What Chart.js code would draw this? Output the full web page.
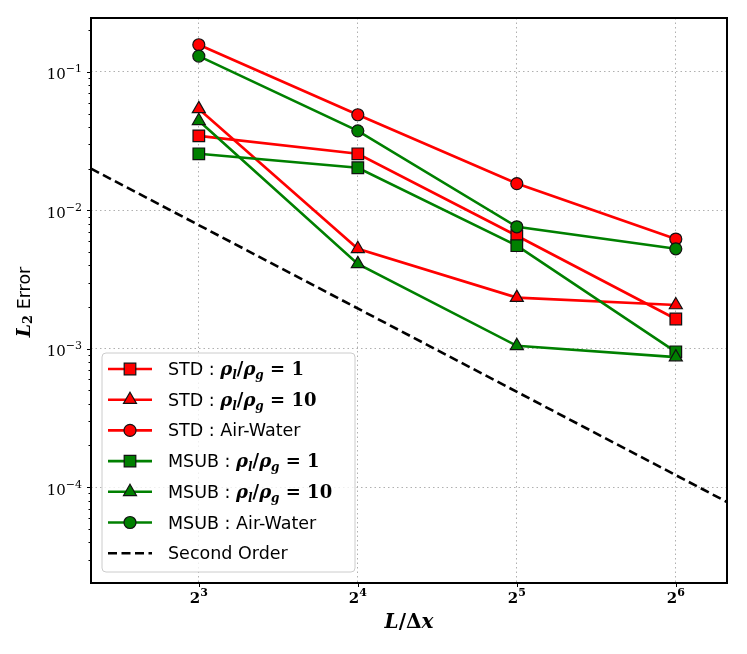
<!DOCTYPE html>
<html>
<head>
<meta charset="utf-8">
<script src="https://cdn.jsdelivr.net/npm/chart.js@4.4.1/dist/chart.umd.min.js"></script>
<style>
  html, body { margin: 0; padding: 0; background: #fff; }
</style>
</head>
<body>
<canvas id="errChart" width="747" height="654"></canvas>
<script>
// grid resolution L/dx and tick labels (base, exponent)
const gridN = [8, 16, 32, 64];
const xTickBase = ['2', '2', '2', '2'];
const xTickExp = ['3', '4', '5', '6'];
const yTicks = [1e-4, 1e-3, 1e-2, 1e-1];
const yTickBase = ['10', '10', '10', '10'];
const yTickExp = ['−4', '−3', '−2', '−1'];

// L2 error
const stdRatio1 = [0.0345, 0.0256, 0.00655, 0.00164];
const stdRatio10 = [0.054, 0.00527, 0.00234, 0.00207];
const stdAirWater = [0.157, 0.049, 0.0156, 0.0062];
const msubRatio1 = [0.0256, 0.0203, 0.00555, 0.00095];
const msubRatio10 = [0.0443, 0.0041, 0.00105, 0.00087];
const msubAirWater = [0.13, 0.0375, 0.0076, 0.00527];

// reference slope line
const orderX = [5, 80];
const orderY = [0.0200, 0.0000781];

const seriesNames = [
    'STD : ρl/ρg = 1', 'STD : ρl/ρg = 10', 'STD : Air-Water',
    'MSUB : ρl/ρg = 1', 'MSUB : ρl/ρg = 10', 'MSUB : Air-Water',
    'Second Order'
];

const RED = '#ff0000';
const GREEN = '#008000';
const markerSize = { rect: 8.2, triangle: 7.5, circle: 6 };
const LINE_W = 2.6;
const DASH = [9, 4.5];

function series(label, vals, color, style, idx) {
    return {
        label: label,
        data: vals.map((v, i) => ({ x: gridN[i], y: v })),
        borderColor: color,
        backgroundColor: color,
        borderWidth: LINE_W,
        pointStyle: style,
        pointRadius: markerSize[style],
        pointBackgroundColor: color,
        pointBorderColor: '#111',
        pointBorderWidth: 1.2,
        tension: 0,
        order: 10 - idx
    };
}

const datasets = [
    series(seriesNames[0], stdRatio1, RED, 'rect', 0),
    series(seriesNames[1], stdRatio10, RED, 'triangle', 1),
    series(seriesNames[2], stdAirWater, RED, 'circle', 2),
    series(seriesNames[3], msubRatio1, GREEN, 'rect', 3),
    series(seriesNames[4], msubRatio10, GREEN, 'triangle', 4),
    series(seriesNames[5], msubAirWater, GREEN, 'circle', 5),
    {
        label: seriesNames[6],
        data: orderX.map((x, i) => ({ x: x, y: orderY[i] })),
        borderColor: '#000',
        borderWidth: LINE_W,
        borderDash: DASH,
        pointRadius: 0,
        order: 1
    }
];

// --- helpers for drawing mixed-font text ---
const SANS = 'DejaVu Sans';
const SERIF = 'DejaVu Serif';

function drawSegs(ctx, segs, x, y, align) {
    let total = 0;
    segs.forEach(s => { ctx.font = s.font; total += ctx.measureText(s.t).width; });
    let cx = align === 'center' ? x - total / 2 : (align === 'right' ? x - total : x);
    segs.forEach(s => {
        ctx.font = s.font;
        ctx.fillText(s.t, cx, y + (s.dy || 0));
        cx += ctx.measureText(s.t).width;
    });
}

function labelSegs(label) {
    const key = 'ρl/ρg';
    if (label.indexOf(key) < 0) return [{ t: label, font: '17.5px ' + SANS }];
    const parts = label.split(key);
    const it = 'bold italic 18px ' + SERIF, sub = 'bold italic 12px ' + SERIF, bd = 'bold 18px ' + SERIF;
    return [
        { t: parts[0], font: '17.5px ' + SANS },
        { t: 'ρ', font: it }, { t: 'l', font: sub, dy: 4 },
        { t: '/', font: bd },
        { t: 'ρ', font: it }, { t: 'g', font: sub, dy: 4 },
        { t: parts[1], font: bd }
    ];
}

function drawMarker(ctx, style, x, y, color) {
    const r = markerSize[style];
    ctx.save();
    ctx.fillStyle = color;
    ctx.strokeStyle = '#111';
    ctx.lineWidth = 1.2;
    ctx.beginPath();
    if (style === 'circle') {
        ctx.arc(x, y, r, 0, Math.PI * 2);
    } else if (style === 'rect') {
        const s = r * Math.SQRT1_2;
        ctx.rect(x - s, y - s, 2 * s, 2 * s);
    } else {
        ctx.moveTo(x, y - r);
        ctx.lineTo(x + Math.sin(2 * Math.PI / 3) * r, y + r / 2);
        ctx.lineTo(x - Math.sin(2 * Math.PI / 3) * r, y + r / 2);
        ctx.closePath();
    }
    ctx.fill();
    ctx.stroke();
    ctx.restore();
}

const legendStyles = [
    { color: RED, style: 'rect' }, { color: RED, style: 'triangle' }, { color: RED, style: 'circle' },
    { color: GREEN, style: 'rect' }, { color: GREEN, style: 'triangle' }, { color: GREEN, style: 'circle' },
    { color: '#000', style: null }
];

const decorPlugin = {
    id: 'decor',
    afterDatasetsDraw(chart) {
        const ctx = chart.ctx;
        // legend box
        const bx = 102, by = 353, bw = 253, bh = 219, rad = 4;
        ctx.save();
        ctx.beginPath();
        ctx.moveTo(bx + rad, by);
        ctx.arcTo(bx + bw, by, bx + bw, by + bh, rad);
        ctx.arcTo(bx + bw, by + bh, bx, by + bh, rad);
        ctx.arcTo(bx, by + bh, bx, by, rad);
        ctx.arcTo(bx, by, bx + bw, by, rad);
        ctx.closePath();
        ctx.fillStyle = 'rgba(255,255,255,0.8)';
        ctx.fill();
        ctx.strokeStyle = '#cccccc';
        ctx.lineWidth = 1;
        ctx.stroke();

        ctx.textBaseline = 'alphabetic';
        seriesNames.forEach((name, i) => {
            const y = 369 + i * 30.7;
            const st = legendStyles[i];
            ctx.save();
            ctx.strokeStyle = st.color;
            ctx.lineWidth = LINE_W;
            if (!st.style) ctx.setLineDash(DASH);
            ctx.beginPath();
            ctx.moveTo(108, y);
            ctx.lineTo(152, y);
            ctx.stroke();
            ctx.restore();
            if (st.style) drawMarker(ctx, st.style, 130, y, st.color);
            ctx.fillStyle = '#000';
            drawSegs(ctx, labelSegs(name), 168, y + 6, 'left');
        });
        ctx.restore();
    },
    afterDraw(chart) {
        const ctx = chart.ctx;
        const a = chart.chartArea;
        const ys = chart.scales.y, xs = chart.scales.x;
        ctx.save();
        ctx.strokeStyle = '#000';
        // tick marks
        ctx.lineWidth = 1;
        ctx.beginPath();
        yTicks.forEach(v => {
            const py = Math.round(ys.getPixelForValue(v)) + 0.5;
            ctx.moveTo(a.left - 4, py); ctx.lineTo(a.left, py);
        });
        for (let d = -5; d <= -1; d++) {
            for (let k = 2; k <= 9; k++) {
                const v = k * Math.pow(10, d);
                if (v < ys.min || v > ys.max) continue;
                const py = Math.round(ys.getPixelForValue(v)) + 0.5;
                ctx.moveTo(a.left - 2.5, py); ctx.lineTo(a.left, py);
            }
        }
        gridN.forEach(v => {
            const px = Math.round(xs.getPixelForValue(v)) + 0.5;
            ctx.moveTo(px, a.bottom); ctx.lineTo(px, a.bottom + 4);
        });
        ctx.stroke();
        // frame
        ctx.lineWidth = 2;
        ctx.strokeRect(a.left, a.top, a.right - a.left, a.bottom - a.top);

        // tick labels with superscripts
        ctx.fillStyle = '#000';
        ctx.textBaseline = 'alphabetic';
        yTicks.forEach((v, i) => {
            const py = ys.getPixelForValue(v);
            drawSegs(ctx, [
                { t: yTickBase[i], font: '15px ' + SERIF },
                { t: yTickExp[i], font: '11px ' + SERIF, dy: -7 }
            ], a.left - 9, py + 7.5, 'right');
        });
        gridN.forEach((v, i) => {
            const px = xs.getPixelForValue(v);
            drawSegs(ctx, [
                { t: xTickBase[i], font: 'bold 15px ' + SERIF },
                { t: xTickExp[i], font: 'bold 11px ' + SERIF, dy: -7 }
            ], px, 603, 'center');
        });

        // axis titles
        ctx.textBaseline = 'middle';
        drawSegs(ctx, [
            { t: 'L', font: 'bold italic 20px ' + SERIF },
            { t: '/', font: 'bold 20px ' + SERIF },
            { t: 'Δ', font: 'bold 20px ' + SERIF },
            { t: 'x', font: 'bold italic 20px ' + SERIF }
        ], (a.left + a.right) / 2, 623, 'center');

        ctx.translate(25, 302);
        ctx.rotate(-Math.PI / 2);
        drawSegs(ctx, [
            { t: 'L', font: 'bold italic 19px ' + SERIF },
            { t: '2', font: 'bold 13px ' + SERIF, dy: 4 },
            { t: ' Error', font: '17.5px ' + SANS }
        ], 0, 0, 'center');
        ctx.restore();
    }
};

new Chart(document.getElementById('errChart'), {
    type: 'line',
    data: { datasets: datasets },
    options: {
        responsive: false,
        animation: false,
        layout: { padding: { top: 18, right: 20, left: 0, bottom: 0 } },
        plugins: {
            legend: { display: false },
            tooltip: { enabled: false }
        },
        scales: {
            x: {
                type: 'logarithmic',
                min: 5,
                max: 80,
                afterBuildTicks: s => { s.ticks = gridN.map(v => ({ value: v })); },
                afterFit: s => { s.height = 71; },
                ticks: { display: false, autoSkip: false },
                grid: { color: '#b0b0b0', lineWidth: 1, drawTicks: false },
                border: { display: false, dash: [1.5, 3] }
            },
            y: {
                type: 'logarithmic',
                min: 2.03e-5,
                max: 0.245,
                afterBuildTicks: s => { s.ticks = yTicks.map(v => ({ value: v })); },
                afterFit: s => { s.width = 91; },
                ticks: { display: false, autoSkip: false },
                grid: { color: '#b0b0b0', lineWidth: 1, drawTicks: false },
                border: { display: false, dash: [1.5, 3] }
            }
        }
    },
    plugins: [decorPlugin]
});
</script>
</body>
</html>
